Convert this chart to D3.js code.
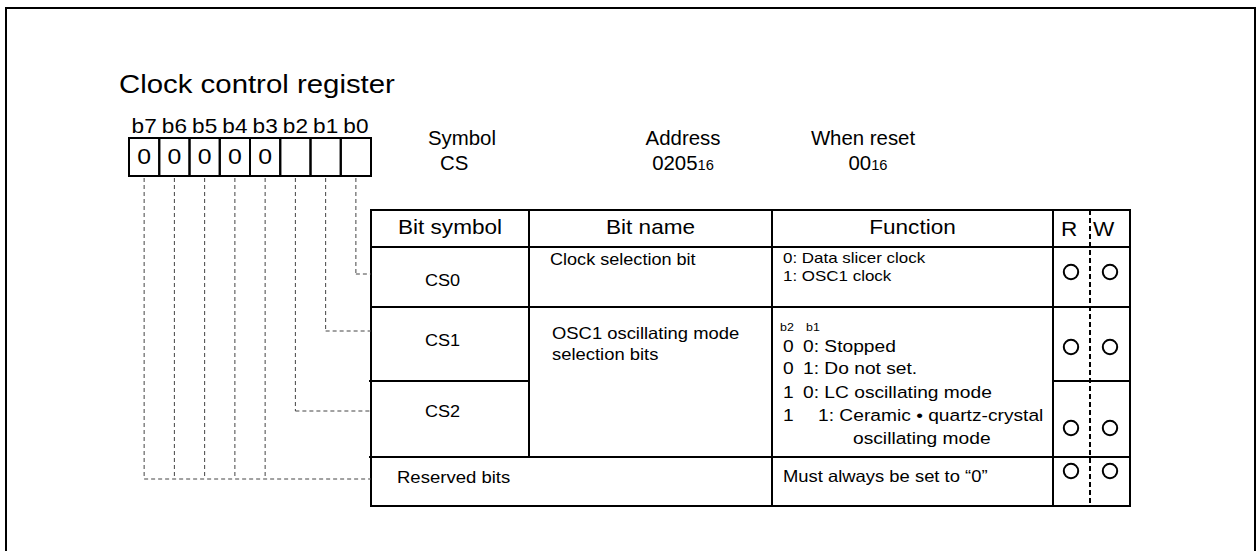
<!DOCTYPE html>
<html><head><meta charset="utf-8">
<script src="https://cdn.jsdelivr.net/npm/d3@7/dist/d3.min.js"></script>
<style>html,body{margin:0;padding:0;background:#fff;} text{font-family:"Liberation Sans",Arial,Helvetica,sans-serif;fill:#000;}</style>
</head><body><svg id="c" width="1257" height="551"></svg>
<script>
// ---- data ----
const title = "Clock control register";
const bitLabels = ["b7","b6","b5","b4","b3","b2","b1","b0"];
const bitValues = ["0","0","0","0","0","","",""];
const headerLabels = ["Symbol","Address","When reset"];
const headerValues = [["CS",""],["0205","16"],["00","16"]];
const columnTitles = ["Bit symbol","Bit name","Function","R","W"];
const bitSymbols = ["CS0","CS1","CS2","Reserved bits"];
const bitNames = [["Clock selection bit"],["OSC1 oscillating mode","selection bits"],["Must always be set to \u201c0\u201d"]];
const cs0Function = ["0: Data slicer clock","1: OSC1 clock"];
const modeHeader = ["b2","b1"];
const modeB2 = ["0","0","1","1",""];
const modeText = ["0: Stopped","1: Do not set.","0: LC oscillating mode","1: Ceramic \u2022 quartz-crystal","oscillating mode"];
const readable = [true,true,true,true];
const writable = [true,true,true,true];
// which register bits lead to which table row
const leaderRows = [3,3,3,3,3,2,1,0];

// ---- layout ----
const SX = 1.13;
const svg = d3.select("#c");
function T(x,y,s,size,anchor,sx){
  const k = sx===undefined ? SX : sx;
  const t = svg.append("text").attr("transform",`translate(${x},${y}) scale(${k},1)`)
    .attr("font-size",size).attr("text-anchor",anchor||"start");
  if (Array.isArray(s)) { t.append("tspan").text(s[0]); if (s[1]) t.append("tspan").attr("font-size",size*0.72).text(s[1]); }
  else t.text(s);
  return t;
}
function L(x1,y1,x2,y2,w,dash,col){
  const l = svg.append("line").attr("x1",x1).attr("y1",y1).attr("x2",x2).attr("y2",y2)
    .attr("stroke",col||"#000").attr("stroke-width",w||2);
  if (dash) l.attr("stroke-dasharray",dash);
  return l;
}

// outer frame
svg.append("rect").attr("x",6).attr("y",8).attr("width",1249).attr("height",600)
  .attr("fill","none").attr("stroke","#000").attr("stroke-width",2);

T(119,93,title,26);

// register boxes
const xb = d3.scaleBand().domain(bitLabels).range([129,371]);
const boxTop = 138, boxBot = 176;
bitLabels.forEach((b,i)=>{
  const x = xb(b), w = xb.bandwidth();
  svg.append("rect").attr("x",x).attr("y",boxTop).attr("width",w).attr("height",boxBot-boxTop)
    .attr("fill","none").attr("stroke","#000").attr("stroke-width",2);
  T(x+w/2,133,b,20,"middle");
  if (bitValues[i]) T(x+w/2,164,bitValues[i],22,"middle");
});

// header
const hx = [462,683,863];
headerLabels.forEach((h,i)=>{ T(hx[i],145,h,20,"middle",1.02); });
T(440,170,headerValues[0][0],20,"start",1.02);
T(683,170,headerValues[1],20,"middle",1.02);
T(868,170,headerValues[2],20,"middle",1.02);

// table geometry
const cx = [371,529,772,1053,1090,1130];
const yTop = 210, yHead = 247;
const rowEdges = [247,307,381,457,506];

svg.append("rect").attr("x",cx[0]).attr("y",yTop).attr("width",cx[5]-cx[0]).attr("height",rowEdges[4]-yTop)
  .attr("fill","none").attr("stroke","#000").attr("stroke-width",2);
L(cx[0],yHead,cx[5],yHead);
L(cx[0],307,cx[5],307);
L(cx[0]-2,381,cx[1],381);
L(cx[3],381,cx[5],381);
L(cx[0]-2,457,cx[5],457);
L(cx[1],yTop,cx[1],457);
L(cx[2],yTop,cx[2],rowEdges[4]);
L(cx[3],yTop,cx[3],rowEdges[4]);
L(cx[4],yTop,cx[4],rowEdges[4],2,"5,3");

// column titles
T((cx[0]+cx[1])/2,234,columnTitles[0],20,"middle");
T((cx[1]+cx[2])/2,234,columnTitles[1],20,"middle");
T((cx[2]+cx[3])/2,234,columnTitles[2],20,"middle");
T(1061,236,columnTitles[3],20,"start");
T(1093,236,columnTitles[4],20,"start");

// bit symbols
T(425,286,bitSymbols[0],16);
T(425,346,bitSymbols[1],16);
T(425,417,bitSymbols[2],16);
T(397,483,bitSymbols[3],16.4);

// bit names
T(550,265,bitNames[0][0],16);
T(552,339,bitNames[1][0],16.3);
T(552,360,bitNames[1][1],16.3);

// functions
T(783,263,cs0Function[0],15);
T(783,281,cs0Function[1],15);
T(780,331,modeHeader[0],11);
T(806,331,modeHeader[1],11);
const modeY = [352,374,398,421,444];
const modeX = [803,803,803,818,853];
modeText.forEach((t,i)=>{
  if (modeB2[i]) T(783,modeY[i],modeB2[i],17);
  T(modeX[i],modeY[i],t,17);
});
T(783,482,bitNames[2][0],16.3);

// R/W circles
const circY = [272,347,428,471];
readable.forEach((r,i)=>{
  if (r) svg.append("circle").attr("cx",1071).attr("cy",circY[i]).attr("r",7.2).attr("fill","none").attr("stroke","#000").attr("stroke-width",2);
  if (writable[i]) svg.append("circle").attr("cx",1110).attr("cy",circY[i]).attr("r",7.2).attr("fill","none").attr("stroke","#000").attr("stroke-width",2);
});

// leader lines
const leadY = [274,331,411,479];
bitLabels.forEach((b,i)=>{
  const x = xb(b)+xb.bandwidth()/2;
  const y = leadY[leaderRows[i]];
  L(x,boxBot+2,x,y,1,"4,3","#444");
  if (i===0 || leaderRows[i]!==3) L(x,y,cx[0],y,1,"4,3","#444");
});
</script></body></html>
